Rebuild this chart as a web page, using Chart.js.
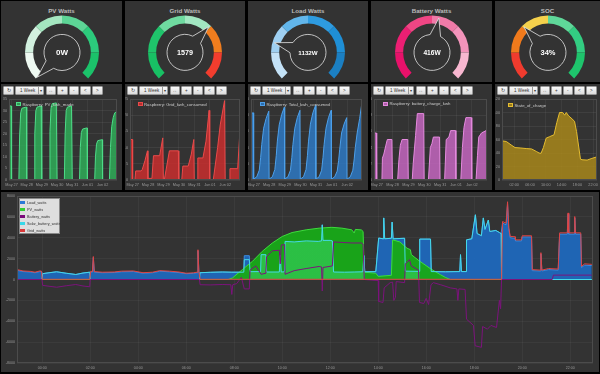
<!DOCTYPE html>
<html>
<head>
<meta charset="utf-8">
<title>Raspberry solar</title>
<script src="https://cdn.jsdelivr.net/npm/chart.js@4.4.1/dist/chart.umd.min.js"></script>
<style>
  html, body { margin: 0; padding: 0; background: #000; }
  body { width: 600px; height: 374px; position: relative; overflow: hidden;
         font-family: "Liberation Sans", Arial, sans-serif; }
  .panel { position: absolute; background: #333; }
  .title { position: absolute; left: 0; right: 0; top: 6px; text-align: center;
           font-size: 6.2px; font-weight: bold; color: #bbb; }
  canvas { position: absolute; }
  .btn { position: absolute; top: 1.5px; height: 9px; box-sizing: border-box;
         background: linear-gradient(#fafafa, #dcdcdc); border: 0.5px solid #999; border-radius: 1px;
         color: #333; font-size: 4.5px; line-height: 8px; text-align: center; }
  .btn.sel { text-align: left; padding-left: 4px; }
  .btn.sel b { position: absolute; right: 0; top: 0; width: 4px; height: 8px; border-left: 0.5px solid #999;
               font-weight: normal; font-size: 3.5px; text-align: center; }
  .leg { position: absolute; font-size: 4.3px; color: #ccc; white-space: nowrap; line-height: 5px; }
  .leg i { display: inline-block; width: 5px; height: 4px; margin-right: 1.5px; vertical-align: middle;
           box-sizing: border-box; border: 0.5px solid #ddd; }
  #bigleg { position: absolute; left: 19px; top: 197.5px; width: 41px; height: 36px; box-sizing: border-box;
            background: #dedede; border: 0.5px solid #888; }
  #bigleg div { position: absolute; left: 2px; font-size: 3.8px; color: #333; white-space: nowrap; line-height: 4px; }
  #bigleg i { display: inline-block; width: 5px; height: 3.4px; margin-right: 2px; vertical-align: middle; }
</style>
</head>
<body>
<script>
// ---- gauges ----
const gaugeTitles = ["PV Watts", "Grid Watts", "Load Watts", "Battery Watts", "SOC"];
const gaugeValues = [0, 1579, 1132, 416, 34];
const gaugeMin = [0, 0, 0, -5000, 0];
const gaugeMax = [5000, 2400, 5000, 5000, 100];
const gaugeText = ["0W", "1579", "1132W", "416W", "34%"];

// ---- week charts (x = days from May 27 00:00) ----
const dayLabels = ["May 27", "May 28", "May 29", "May 30", "May 31", "Jun 01", "Jun 02"];
const pvKwhMade = [[-0.17,32],[-0.02,32],[0,0],
  [0.48,0],[0.53,19],[0.6,29],[0.68,31],[0.95,31.5],[0.98,31.5],[1,0],
  [1.48,0],[1.53,20],[1.6,30],[1.68,31.5],[1.95,32],[1.98,32],[2,0],
  [2.48,0],[2.53,21],[2.6,31],[2.68,33],[2.95,33.3],[2.98,33.3],[3,0],
  [3.48,0],[3.53,20],[3.6,30],[3.68,31.5],[3.95,32],[3.98,32],[4,0],
  [4.48,0],[4.53,14],[4.6,20.5],[4.68,22],[4.95,22.5],[4.98,22.5],[5,0],
  [5.48,0],[5.53,10],[5.6,15.5],[5.68,17],[5.95,17.4],[5.98,17.4],[6,0],
  [6.45,0],[6.52,14],[6.6,23],[6.7,27],[6.8,29],[6.95,29.6]];
const gridKwhConsumed = [[-0.17,12.5],[-0.02,12.5],[0,0],
  [0.15,0],[0.2,2.8],[0.55,2.8],[0.62,3.2],[0.8,6],[0.96,9],[0.99,0],
  [1,0.5],[1.25,0.5],[1.35,7.5],[1.75,7.5],[1.95,13],[1.99,0],
  [2.05,0],[2.38,9],[2.96,9],[2.99,0],
  [3.18,0],[3.25,4.3],[3.6,4.3],[3.8,8],[3.96,12.5],[3.99,0],
  [4.17,0],[4.22,6.8],[4.55,6.8],[4.75,12],[4.95,21.5],[4.99,0],
  [5.22,0],[5.5,10],[5.67,17],[5.95,24.5],[5.99,0],
  [6.25,0],[6.3,3.5],[6.8,3.5],[6.95,15.5]];
const totalKwhConsumed = [[-0.17,41],[-0.03,41.5],[0,0.5],
  [0.2,2],[0.36,6],[0.45,14],[0.52,22],[0.64,32],[0.8,38],[0.97,42.5],[0.99,0.5],
  [1.2,2],[1.36,6.5],[1.45,15],[1.52,24],[1.64,34],[1.8,40.5],[1.97,45],[1.99,0.5],
  [2.2,2],[2.36,6],[2.45,14],[2.52,22],[2.64,32],[2.8,38.5],[2.97,43],[2.99,0.5],
  [3.2,2],[3.36,6.5],[3.45,15],[3.52,24],[3.64,34.5],[3.8,41.5],[3.97,46],[3.99,0.5],
  [4.2,2],[4.36,6],[4.45,14],[4.52,22],[4.64,32],[4.8,38.5],[4.97,43],[4.99,0.5],
  [5.2,2],[5.36,5.5],[5.45,12],[5.52,19],[5.64,29],[5.8,34.5],[5.97,38.5],[5.99,0.5],
  [6.2,2],[6.36,6],[6.45,13],[6.52,20],[6.64,29],[6.8,38],[6.95,48]];
const batteryChargeKwh = [[-0.17,5.8],[-0.02,5.8],[0,0],
  [0.33,0],[0.36,2.7],[0.45,3.2],[0.58,4.3],[0.67,5],[0.96,5],[0.99,0],
  [1.32,0],[1.4,2.5],[1.49,4.3],[1.6,5],[1.96,5],[1.99,0],
  [2.24,0],[2.3,2],[2.45,5.5],[2.56,8.2],[2.96,8.2],[2.99,0],
  [3.26,0],[3.38,4],[3.48,4.5],[3.57,5.3],[3.96,5.3],[3.99,0],
  [4.28,0],[4.38,5],[4.55,5.3],[4.66,6.1],[4.96,6.1],[4.99,0],
  [5.3,0],[5.4,4],[5.5,6.5],[5.62,7.7],[5.96,7.7],[5.99,0],
  [6.26,0],[6.35,3],[6.43,5.3],[6.6,5.8],[6.9,6.1],[6.95,6.2]];

// ---- state of charge, last day (x = hours) ----
const socHourTicks = [2, 6, 10, 14, 18, 22];
const stateOfCharge = [[-1.1,58],[0,57],[1.2,52],[2.2,48],[3.5,47.5],[5.2,46.5],[6.4,46],[7.7,42],
  [8.3,40],[8.8,39.5],[9.4,48],[10.1,62],[10.9,64],[12.1,67],[12.8,85],[13.5,100],[14.3,100],
  [14.8,96],[15.2,100],[15.8,95],[16.4,92],[17.3,87],[17.8,72],[18.8,31],[19.2,30],[20.5,29.5],
  [21.7,32],[22.8,34],[23,34]];

// ---- power, last day (x = hours, watts) ----
const hourTicks = [0, 2, 4, 6, 8, 10, 12, 14, 16, 18, 20, 22];
const loadWatts = [[-1.05,880],[-0.8,760],[-0.5,720],[-0.3,650],[-0.1,760],[-0.03,740],[0.02,560],
  [0.2,620],[0.6,740],[1,600],[1.4,480],[1.7,620],[1.98,700],[2.02,720],[2.09,700],[2.13,2100],
  [2.17,700],[2.5,650],[3,670],[3.3,740],[3.8,760],[4.2,600],[4.6,650],[4.9,790],[5.3,740],
  [5.7,660],[6,560],[6.3,590],[6.45,650],[6.49,2750],[6.53,650],[7,690],[7.5,720],[7.9,700],
  [8.4,700],[8.42,2280],[8.63,2280],[8.66,750],[9.1,760],[9.12,2380],[9.32,2380],[9.35,720],
  [9.88,720],[9.92,2300],[9.96,720],[10.1,740],[10.12,3650],[11.64,3700],[11.67,5240],[11.7,3750],
  [12.09,3700],[12.14,720],[13.36,740],[13.4,2300],[13.44,740],[13.9,760],[14.02,3970],[14.2,3900],
  [14.23,5900],[14.27,3900],[14.55,3950],[14.58,5500],[14.62,3900],[15.1,3950],[15.13,800],
  [15.7,780],[15.73,3870],[16.18,3870],[16.21,760],[16.8,740],[17.4,760],[17.43,2380],[17.47,760],
  [17.66,760],[17.68,3800],[17.9,3900],[18.05,6200],[18.12,4400],[18.3,4200],[18.38,5900],
  [18.45,4800],[18.59,5700],[18.65,4600],[18.9,4700],[19.05,4500],[19.12,4400],[19.18,5400],
  [19.33,5250],[19.39,7200],[19.44,4900],[19.5,4000],[19.7,3950],[19.72,3700],[19.97,3700],
  [20,4080],[20.39,4080],[20.42,850],[20.75,820],[20.78,2450],[20.82,820],[21.1,950],[21.5,900],
  [21.56,4350],[21.88,4350],[21.91,6250],[21.94,4350],[22.16,4350],[22.19,5900],[22.22,4350],
  [22.44,4350],[22.47,1150],[22.6,1380],[22.9,1330]];
const pvWatts = [[-1.05,0],[7.75,0],[7.93,150],[8.34,950],[8.76,1740],[9.17,2700],[9.59,3500],
  [10,4120],[10.41,4500],[11,4760],[11.54,4920],[12.07,5000],[12.49,4920],[12.9,4760],[13,4450],
  [13.05,4800],[13.3,4750],[13.37,4600],[13.42,700],[13.9,600],[14,300],[14.55,400],[14.6,3800],
  [14.9,3600],[15.2,3000],[15.34,2860],[15.38,2380],[15.7,1800],[16.2,1000],[16.6,450],[16.8,200],
  [17,0],[22.9,0]];
const batteryWatts = [[-1.05,0],[-0.01,0],[0.02,-560],[0.2,-620],[0.6,-740],[1,-600],[1.4,-480],
  [1.7,-620],[1.98,-700],[2,0],[6.55,0],[6.58,-500],[7,-520],[7.5,-480],[7.86,-500],[7.9,-1430],
  [7.94,-500],[8.1,-400],[8.3,200],[8.42,-900],[8.63,-900],[8.66,900],[8.9,1300],[9.12,500],
  [9.32,600],[9.35,2200],[9.59,2750],[9.88,2800],[9.92,1500],[9.96,3300],[10.1,3350],[10.12,500],
  [10.5,850],[11,1050],[11.54,1250],[11.64,1200],[11.67,-1100],[11.7,1150],[12.09,1300],[12.14,3600],
  [12.5,3550],[12.9,3500],[13.3,3500],[13.37,3400],[13.42,0],[14,-100],[14.02,-2100],[14.2,-2200],
  [14.25,-800],[14.5,-300],[14.6,-250],[14.65,-2000],[14.72,-1700],[14.75,-200],[15.1,-300],
  [15.13,1500],[15.3,1900],[15.38,1300],[15.68,900],[15.72,-2200],[15.9,-2300],[16,-1800],
  [16.1,-2400],[16.2,-500],[16.3,-300],[16.6,-500],[17,-800],[17.28,-900],[17.32,-2000],[17.36,-900],
  [17.62,-950],[17.68,-3800],[17.97,-4400],[18.04,-6350],[18.3,-6500],[18.35,-4500],[18.55,-4760],
  [18.7,-4400],[18.93,-4600],[19.05,-2000],[19.1,-2800],[19.14,0],[21.25,0],[21.3,420],[22.9,420]];
const solarBatteryWatts = [[-1.05,0],[-0.01,0],[0.02,560],[0.2,620],[0.6,740],[1,600],[1.4,480],
  [1.7,620],[1.98,700],[2,0],[6.55,0],[6.58,650],[7,690],[7.5,720],[7.9,700],[8.4,700],[8.42,1900],
  [8.63,1900],[8.66,750],[9.1,760],[9.12,2380],[9.32,2380],[9.35,720],[9.88,720],[9.92,2300],
  [9.96,720],[10.1,740],[10.12,3650],[10.5,3600],[11,3700],[11.5,3650],[11.64,3700],[11.67,5240],
  [11.7,3750],[12,3750],[12.09,3700],[12.14,720],[12.6,700],[13,720],[13.36,740],[13.4,2300],
  [13.44,740],[13.9,760],[14.02,3970],[14.2,3900],[14.23,5900],[14.27,3900],[14.55,3950],
  [14.58,5500],[14.62,3900],[15.1,3950],[15.13,800],[15.7,780],[15.73,3870],[16.18,3870],
  [16.21,760],[16.8,740],[17.4,760],[17.43,2380],[17.47,760],[17.66,760],[17.68,3800],[17.9,3900],
  [18.05,6200],[18.12,4400],[18.3,4200],[18.38,5900],[18.45,4800],[18.59,5700],[18.65,4600],
  [18.9,4700],[19.05,4500],[19.12,4400],[19.14,0],[22.9,0]];
const gridWatts = [[-1.05,950],[-0.8,820],[-0.5,780],[-0.3,700],[-0.1,820],[-0.03,800],[0,20],
  [1.98,20],[2.02,780],[2.09,760],[2.13,2200],[2.17,760],[2.5,700],[3,720],[3.3,800],[3.8,820],
  [4.2,650],[4.6,700],[4.9,850],[5.3,800],[5.7,720],[6,600],[6.3,640],[6.45,700],[6.49,2850],
  [6.53,700],[6.58,20],[19.14,20],[19.18,5550],[19.33,5400],[19.39,7450],[19.44,5000],[19.5,4130],
  [19.7,4100],[19.72,3800],[19.97,3800],[20,4190],[20.39,4190],[20.42,950],[20.75,900],[20.78,2570],
  [20.82,900],[21.1,1050],[21.5,1000],[21.56,4470],[21.88,4470],[21.91,6380],[21.94,4470],
  [22.16,4470],[22.19,6030],[22.22,4470],[22.44,4470],[22.47,1270],[22.6,1500],[22.9,1450]];

Chart.defaults.font.family = '"Liberation Sans", Arial, sans-serif';
Chart.defaults.animation = false;
Chart.defaults.events = [];

const toXY = arr => arr.map(p => ({ x: p[0], y: p[1] }));

function div(cls, left, top, width, height, parent) {
  const d = document.createElement("div");
  d.className = cls;
  Object.assign(d.style, { left: left + "px", top: top + "px" });
  if (width != null) d.style.width = width + "px";
  if (height != null) d.style.height = height + "px";
  (parent || document.body).appendChild(d);
  return d;
}
function canvas(left, top, width, height, parent) {
  const c = document.createElement("canvas");
  c.width = width; c.height = height;
  Object.assign(c.style, { left: left + "px", top: top + "px", width: width + "px", height: height + "px" });
  (parent || document.body).appendChild(c);
  return c;
}

// outline around the plot area
const framePlugin = {
  id: "frame",
  afterDraw(chart) {
    const a = chart.chartArea, ctx = chart.ctx;
    ctx.save();
    ctx.strokeStyle = "#4c4c4c";
    ctx.lineWidth = 1;
    ctx.strokeRect(Math.round(a.left) + 0.5, Math.round(a.top) + 0.5,
                   Math.round(a.right - a.left) - 1, Math.round(a.bottom - a.top) - 1);
    ctx.restore();
  }
};

// justgage style pointer + inner circle + value
const needlePlugin = {
  id: "needle",
  afterDraw(chart, args, opts) {
    const arc = chart.getDatasetMeta(0).data[0];
    const ctx = chart.ctx;
    const cx = arc.x, cy = arc.y;
    const ang = (135 + 270 * opts.frac) * Math.PI / 180;
    const r = 18, tip = 35, half = 0.3;
    ctx.save();
    ctx.beginPath();
    ctx.arc(cx, cy, r, ang + half, ang - half + Math.PI * 2);
    ctx.lineTo(cx + tip * Math.cos(ang), cy + tip * Math.sin(ang));
    ctx.closePath();
    ctx.fillStyle = "#333";
    ctx.fill();
    ctx.strokeStyle = "#e4e4e4";
    ctx.lineWidth = 0.8;
    ctx.stroke();
    ctx.fillStyle = "#fff";
    ctx.font = "bold " + opts.size + 'px "Liberation Sans", Arial, sans-serif';
    ctx.textAlign = "center";
    ctx.textBaseline = "middle";
    ctx.fillText(opts.text, cx, cy + 0.5);
    ctx.restore();
  }
};

const panelX = [[1, 122], [125, 245], [248, 368], [371, 492], [495, 600]];
const gaugeColors = [
  ["#eef9f2", "#d2f1df", "#a4e6c0", "#5dd596", "#2ccb7c", "#1bc26a"],
  ["#18c064", "#1fc46b", "#6fdaa0", "#a2e7c2", "#f07d1e", "#f23d2e"],
  ["#c4e2f7", "#9fd0f2", "#62b6eb", "#2e9be0", "#1f8fd6", "#1b7fc2"],
  ["#e8116a", "#ec1f73", "#f04684", "#f07aa8", "#f494bb", "#f8b7d0"],
  ["#f03b2e", "#f07a1c", "#f5d14c", "#5fd799", "#33cd82", "#1ec46c"]
];
const gaugeFont = [8, 7.2, 6.2, 6.6, 7.5];

// ---- top row: gauges ----
gaugeTitles.forEach((title, i) => {
  const [l, r] = panelX[i];
  const p = div("panel", l, 1, r - l, 81);
  div("title", 0, 6, null, null, p).textContent = title;
  const cx = (r - l) / 2;
  const c = canvas(Math.round(cx - 37), 14, 74, 64, p);
  new Chart(c, {
    type: "doughnut",
    plugins: [needlePlugin],
    data: { datasets: [{ data: [1, 1, 1, 1, 1, 1], backgroundColor: gaugeColors[i], borderWidth: 0 }] },
    options: {
      responsive: false,
      rotation: -135,
      circumference: 270,
      cutout: "78%",
      plugins: {
        legend: { display: false }, tooltip: { enabled: false },
        needle: { frac: (gaugeValues[i] - gaugeMin[i]) / (gaugeMax[i] - gaugeMin[i]), text: gaugeText[i], size: gaugeFont[i] }
      }
    }
  });
});

// ---- middle row: toolbars + week charts ----
const toolbarText = ["\u21BB", "1 Week", "\u2194", "+", "-", "<", ">"];
const toolbarLeft = [2, 14, 44.5, 56, 67.5, 79, 91];
const toolbarWidth = [11, 29, 10.5, 10.5, 10.5, 10.5, 10.5];

const smallCharts = [
  { series: pvKwhMade, label: "Raspberry: PV_kwh_made", line: "#4fdc88", fill: "rgba(46,180,90,0.8)", yMax: 35, yStep: 5, plot: [9, 117], leg: [16, 102] },
  { series: gridKwhConsumed, label: "Raspberry: Grid_kwh_consumed", line: "#ea4a4a", fill: "rgba(210,45,45,0.8)", yMax: 25, yStep: 5, plot: [130, 240], leg: [137.5, 102] },
  { series: totalKwhConsumed, label: "Raspberry: Total_kwh_consumed", line: "#4da0ea", fill: "rgba(45,125,205,0.8)", yMax: 50, yStep: 10, plot: [251, 362], leg: [260, 102] },
  { series: batteryChargeKwh, label: "Raspberry: battery_charge_kwh", line: "#e58ade", fill: "rgba(205,105,200,0.8)", yMax: 10, yStep: 2, plot: [374, 487], leg: [383, 101.5] },
  { series: stateOfCharge, label: "State_of_charge", line: "#e4bc30", fill: "rgba(175,140,25,0.8)", yMax: 120, yStep: 20, plot: [502, 597], leg: [508, 103], hours: true }
];

const tickFont = { size: 3.8 };
smallCharts.forEach((sc, i) => {
  const [l, r] = panelX[i];
  const p = div("panel", l, 84, r - l, 106);
  toolbarText.forEach((t, k) => {
    const b = div("btn" + (k === 1 ? " sel" : ""), toolbarLeft[k], 1.5, toolbarWidth[k], null, p);
    b.textContent = t;
    if (k === 1) { const a = document.createElement("b"); a.textContent = "\u25BE"; b.appendChild(a); }
  });
  const c = canvas(0, 11, r - l, 95, p);
  const xTicks = sc.hours ? socHourTicks : dayLabels.map((d, k) => k);
  new Chart(c, {
    type: "line",
    plugins: [framePlugin],
    data: { datasets: [{ data: toXY(sc.series), borderColor: sc.line, backgroundColor: sc.fill,
                         fill: "origin", borderWidth: 1, pointRadius: 0, tension: 0 }] },
    options: {
      responsive: false,
      layout: { padding: { left: 0, right: r - sc.plot[1], top: 4, bottom: 0 } },
      plugins: { legend: { display: false }, tooltip: { enabled: false } },
      scales: {
        x: {
          type: "linear",
          min: sc.hours ? -1.1 : -0.17, max: sc.hours ? 23 : 6.95,
          afterBuildTicks: s => { s.ticks = xTicks.map(v => ({ value: v })); },
          afterFit: s => { s.height = 10; s.paddingLeft = 0; s.paddingRight = 0; },
          grid: { color: "rgba(255,255,255,0.05)", drawTicks: false },
          border: { display: false },
          ticks: { color: "#999", font: tickFont, padding: 2.5, autoSkip: false, maxRotation: 0,
                   callback: v => sc.hours ? String(v).padStart(2, "0") + ":00" : dayLabels[v] }
        },
        y: {
          min: 0, max: sc.yMax,
          afterFit: s => { s.width = sc.plot[0] - l; s.paddingTop = 0; s.paddingBottom = 0; },
          grid: { color: "rgba(255,255,255,0.06)", drawTicks: false },
          border: { display: false },
          ticks: { color: "#999", font: tickFont, padding: 2, stepSize: sc.yStep, autoSkip: false }
        }
      }
    }
  });
  const lg = div("leg", sc.leg[0] - l, sc.leg[1] - 84 - 0.5, null, null, p);
  const sw = document.createElement("i");
  sw.style.background = sc.fill;
  sw.style.borderColor = sc.line;
  lg.appendChild(sw);
  lg.appendChild(document.createTextNode(sc.label));
});

// ---- bottom: power of the day ----
// the solar/battery fill is only tinted where it lies over the PV area (hours)
const solarTintHours = [[8.66, 13.45], [15.12, 15.72]];
function solarFill(context) {
  const chart = context.chart, xs = chart.scales.x;
  if (!xs || !chart.chartArea) return "transparent";
  const g = chart.ctx.createLinearGradient(xs.left, 0, xs.right, 0);
  const w = xs.right - xs.left;
  const pos = h => Math.min(1, Math.max(0, (xs.getPixelForValue(h) - xs.left) / w));
  g.addColorStop(0, "rgba(80,240,140,0)");
  solarTintHours.forEach(([a, b]) => {
    g.addColorStop(pos(a), "rgba(80,240,140,0)");
    g.addColorStop(pos(a) + 0.0005, "rgba(80,240,140,0.35)");
    g.addColorStop(pos(b), "rgba(80,240,140,0.35)");
    g.addColorStop(pos(b) + 0.0005, "rgba(80,240,140,0)");
  });
  g.addColorStop(1, "rgba(80,240,140,0)");
  return g;
}

const bigSeries = [
  { label: "Load_watts", data: loadWatts, line: "#3a8ae0", fill: "rgba(30,105,190,0.93)", swatch: "#2a78d6", order: 5 },
  { label: "PV_watts", data: pvWatts, line: "#3ddc3d", fill: "rgba(24,168,24,0.96)", swatch: "#33cc33", order: 4 },
  { label: "Battery_watts", data: batteryWatts, line: "#7c137c", fill: null, swatch: "#7a0a7a", order: 2 },
  { label: "Solar_battery_watts", data: solarBatteryWatts, line: "#45d9e8", fill: solarFill, swatch: "#38d8e8", order: 3 },
  { label: "Grid_watts", data: gridWatts, line: "#e04444", fill: null, swatch: "#d83a3a", order: 1 }
];
const big = div("panel", 1, 192, 598, 180);
const bc = canvas(0, 0, 598, 180, big);
new Chart(bc, {
  type: "line",
  plugins: [framePlugin],
  data: {
    datasets: bigSeries.map(s => ({
      label: s.label, data: toXY(s.data), borderColor: s.line, backgroundColor: s.fill || "transparent",
      fill: s.fill ? "origin" : false, order: s.order, borderWidth: 1, pointRadius: 0, tension: 0
    }))
  },
  options: {
    responsive: false,
    layout: { padding: { left: 0, right: 6, top: 4, bottom: 0 } },
    plugins: { legend: { display: false }, tooltip: { enabled: false } },
    scales: {
      x: {
        type: "linear", min: -1.05, max: 22.95,
        afterBuildTicks: s => { s.ticks = hourTicks.map(v => ({ value: v })); },
        afterFit: s => { s.height = 9; s.paddingLeft = 0; s.paddingRight = 0; },
        grid: { color: "rgba(255,255,255,0.045)", drawTicks: false },
        border: { display: false },
        ticks: { color: "#999", font: { size: 3.6 }, padding: 3, autoSkip: false, maxRotation: 0,
                 callback: v => String(v).padStart(2, "0") + ":00" }
      },
      y: {
        min: -8000, max: 8000,
        afterFit: s => { s.width = 16; s.paddingTop = 0; s.paddingBottom = 0; },
        grid: { color: "rgba(255,255,255,0.045)", drawTicks: false },
        border: { display: false },
        ticks: { color: "#999", font: { size: 3.6 }, padding: 2, stepSize: 2000, autoSkip: false,
                 callback: v => String(v) }
      }
    }
  }
});
const bl = document.createElement("div");
bl.id = "bigleg";
document.body.appendChild(bl);
bigSeries.forEach((s, k) => {
  const row = div("", 0, 2.2 + k * 7, null, null, bl);
  const sw = document.createElement("i");
  sw.style.background = s.swatch;
  row.appendChild(sw);
  row.appendChild(document.createTextNode(s.label));
});
</script>
</body>
</html>
